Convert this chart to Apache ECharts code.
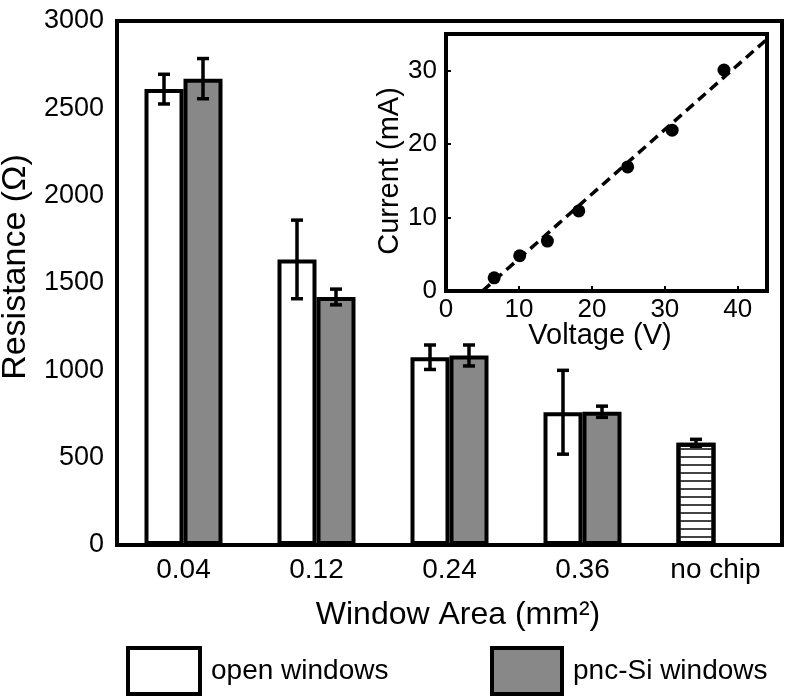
<!DOCTYPE html>
<html>
<head>
<meta charset="utf-8">
<script src="https://cdn.jsdelivr.net/npm/echarts@6/dist/echarts.min.js"></script>
<style>
html,body{margin:0;padding:0;background:#fff;}
#chart{width:786px;height:696px;}
</style>
</head>
<body>
<div id="chart"></div>
<script>
// ---- data ----
const categories = ['0.04', '0.12', '0.24', '0.36', 'no chip'];
const openValues = [2610, 1635, 1075, 760, 585];
const openErrors = [85, 225, 70, 240, 20];
const pncValues = [2670, 1420, 1085, 763, null];
const pncErrors = [115, 45, 60, 32, null];
const resistanceMin = 0, resistanceMax = 3000, resistanceStep = 500;

const voltage = [6.6, 10.1, 13.9, 18.2, 24.9, 31.0, 38.1];
const current = [1.8, 4.8, 6.8, 10.9, 16.9, 21.9, 30.1];
const fitVoltage = [5, 44];
const fitCurrent = [0, 34.3];
const voltageMin = 0, voltageMax = 44, voltageStep = 10;
const currentMin = 0, currentMax = 35, currentStep = 10;

// ---- style ----
const FONT = '"Liberation Sans", Arial, Helvetica, sans-serif';
const BAR_W = 39;
const BORDER = 4;

const chart = echarts.init(document.getElementById('chart'), null, {renderer: 'canvas'});

const hatch = {
  symbol: 'rect', symbolSize: 1, dashArrayX: [1, 0], dashArrayY: [1.5, 5.2],
  rotation: 0, color: '#444'
};

const openData = openValues.map((v, i) => categories[i] === 'no chip'
  ? {value: v, itemStyle: {color: '#fff', decal: hatch}}
  : v);
const pncData = pncValues.map(v => v === null ? '-' : v);

function errData(vals, errs) {
  const out = [];
  vals.forEach((v, i) => { if (v !== null && errs[i] !== null) out.push([i, v, errs[i]]); });
  return out;
}

function errRender(offset) {
  return function (params, api) {
    const c = api.coord([api.value(0), api.value(1)]);
    const hi = api.coord([api.value(0), api.value(1) + api.value(2)]);
    const lo = api.coord([api.value(0), api.value(1) - api.value(2)]);
    const x = c[0] + offset;
    const cap = 6;
    const st = {stroke: '#000', lineWidth: 3.5};
    return {
      type: 'group',
      children: [
        {type: 'line', shape: {x1: x, y1: hi[1], x2: x, y2: lo[1]}, style: st},
        {type: 'line', shape: {x1: x - cap, y1: hi[1], x2: x + cap, y2: hi[1]}, style: st},
        {type: 'line', shape: {x1: x - cap, y1: lo[1], x2: x + cap, y2: lo[1]}, style: st}
      ]
    };
  };
}

const fitData = fitVoltage.map((v, i) => [v, fitCurrent[i]]);
const ivData = voltage.map((v, i) => [v, current[i]]);

const plain = v => String(v);

const option = {
  animation: false,
  backgroundColor: '#fff',
  textStyle: {fontFamily: FONT, color: '#000'},
  grid: [
    {left: 117, top: 21, right: 4, bottom: 151, show: true, borderColor: '#000', borderWidth: BORDER, backgroundColor: '#fff', containLabel: false},
    {left: 446, top: 34, right: 19, bottom: 405, show: true, borderColor: '#000', borderWidth: BORDER, backgroundColor: '#fff', containLabel: false}
  ],
  xAxis: [
    {type: 'category', gridIndex: 0, data: categories,
     axisLine: {show: false}, axisTick: {show: false}, splitLine: {show: false},
     axisLabel: {fontSize: 28, color: '#000', fontFamily: FONT, margin: 11}},
    {type: 'value', gridIndex: 1, min: voltageMin, max: voltageMax, interval: voltageStep,
     axisLine: {show: false}, splitLine: {show: false},
     axisTick: {show: true, inside: true, length: 5, lineStyle: {color: '#000', width: 2}},
     axisLabel: {fontSize: 26, color: '#000', fontFamily: FONT, margin: 6, formatter: plain,
       showMaxLabel: false}}
  ],
  yAxis: [
    {type: 'value', gridIndex: 0, min: resistanceMin, max: resistanceMax, interval: resistanceStep,
     axisLine: {show: false}, axisTick: {show: false}, splitLine: {show: false},
     axisLabel: {fontSize: 27, color: '#000', fontFamily: FONT, margin: 13, formatter: plain}},
    {type: 'value', gridIndex: 1, min: currentMin, max: currentMax, interval: currentStep,
     axisLine: {show: false}, splitLine: {show: false},
     axisTick: {show: true, inside: true, length: 5, lineStyle: {color: '#000', width: 2}},
     axisLabel: {fontSize: 26, color: '#000', fontFamily: FONT, margin: 9, formatter: plain,
       showMaxLabel: false}}
  ],
  legend: [
    {data: ['open windows'], left: 126, top: 646, padding: 0, itemWidth: 72, itemHeight: 46, icon: 'rect',
     itemStyle: {borderColor: '#000', borderWidth: BORDER, color: '#fff'},
     textStyle: {fontSize: 28, color: '#000', fontFamily: FONT, padding: [0, 0, 0, 6]}, selectedMode: false},
    {data: ['pnc-Si windows'], left: 490, top: 646, padding: 0, itemWidth: 70, itemHeight: 46, icon: 'rect',
     itemStyle: {borderColor: '#000', borderWidth: BORDER, color: '#888'},
     textStyle: {fontSize: 28, color: '#000', fontFamily: FONT, padding: [0, 0, 0, 6]}, selectedMode: false}
  ],
  series: [
    {name: 'open windows', type: 'bar', xAxisIndex: 0, yAxisIndex: 0, data: openData,
     barWidth: BAR_W, barGap: '0%',
     itemStyle: {color: '#fff', borderColor: '#000', borderWidth: BORDER}},
    {name: 'pnc-Si windows', type: 'bar', xAxisIndex: 0, yAxisIndex: 0, data: pncData,
     barWidth: BAR_W, barGap: '0%',
     itemStyle: {color: '#888', borderColor: '#000', borderWidth: BORDER}},
    {name: 'open err', type: 'custom', xAxisIndex: 0, yAxisIndex: 0, z: 5,
     data: errData(openValues, openErrors), renderItem: errRender(-BAR_W / 2)},
    {name: 'pnc err', type: 'custom', xAxisIndex: 0, yAxisIndex: 0, z: 5,
     data: errData(pncValues, pncErrors), renderItem: errRender(BAR_W / 2)},
    {name: 'fit', type: 'line', xAxisIndex: 1, yAxisIndex: 1, data: fitData, showSymbol: false, symbol: 'none',
     lineStyle: {color: '#000', width: 3.5, type: [10, 6]}, z: 3},
    {name: 'IV', type: 'scatter', xAxisIndex: 1, yAxisIndex: 1, data: ivData, symbolSize: 13,
     itemStyle: {color: '#000', opacity: 1}, z: 4}
  ],
  graphic: [
    {type: 'text', x: 16, y: 267, rotation: Math.PI / 2,
     style: {text: 'Resistance (Ω)', fontSize: 34, fontFamily: FONT, fill: '#000', align: 'center', verticalAlign: 'middle'}},
    {type: 'text', x: 458, y: 615,
     style: {text: 'Window Area (mm²)', fontSize: 32, fontFamily: FONT, fill: '#000', align: 'center', verticalAlign: 'middle'}},
    {type: 'text', x: 390, y: 171, rotation: Math.PI / 2,
     style: {text: 'Current (mA)', fontSize: 29, fontFamily: FONT, fill: '#000', align: 'center', verticalAlign: 'middle'}},
    {type: 'text', x: 600, y: 336,
     style: {text: 'Voltage (V)', fontSize: 29, fontFamily: FONT, fill: '#000', align: 'center', verticalAlign: 'middle'}}
  ]
};
chart.setOption(option);
</script>
</body>
</html>
